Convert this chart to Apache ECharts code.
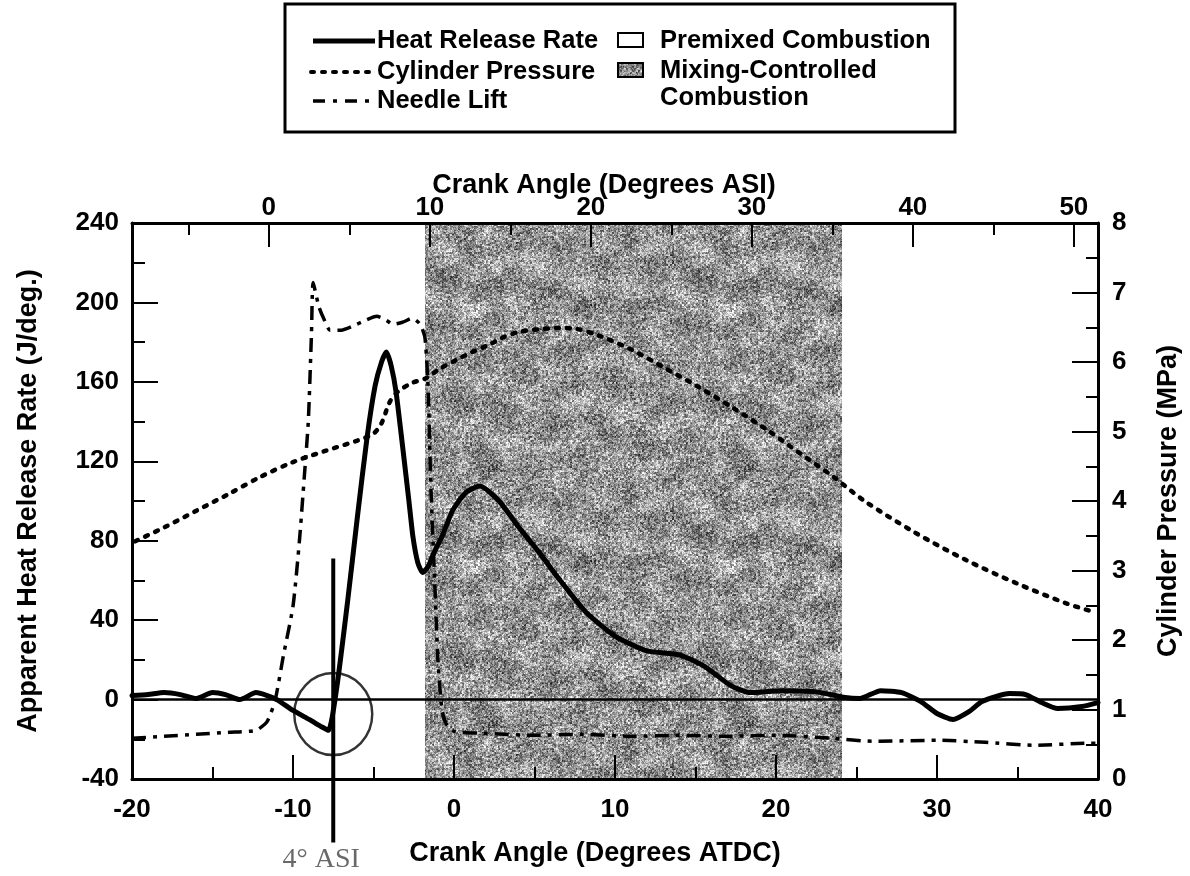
<!DOCTYPE html>
<html>
<head>
<meta charset="utf-8">
<title>Heat Release Rate, Cylinder Pressure and Needle Lift</title>
<script src="https://cdn.jsdelivr.net/npm/echarts@6/dist/echarts.min.js"></script>
<style>
  html, body { margin: 0; padding: 0; background: #fff; }
  #chart { width: 1190px; height: 876px; }
</style>
</head>
<body>
<div id="chart"></div>
<script>
// ---- data -------------------------------------------------------------
// Crank angle in degrees ATDC; ASI = ATDC + ASI_OFFSET
const ASI_OFFSET = 11.5;

// Apparent heat release rate (J/deg.)
const hrrAngle = [-20, -19, -18, -17, -16, -15, -14.2, -13.3, -12.3, -11.6,
  -11, -10, -9, -8.2, -7.8, -7.3, -6.6, -6, -5.4, -4.9,
  -4.5, -4.2, -3.9, -3.6, -3.2, -2.8, -2.55, -2.25, -1.95, -1.6,
  -1.3, -0.7, -0.1, 0.7, 1.6, 2.8, 4, 5.3, 6.5, 8.2,
  10, 12, 14, 15.6, 17.2, 18.4, 20.3, 22.4, 24.3, 25.2,
  26.5, 27.8, 29, 30, 31, 32, 32.8, 34.5, 35.5, 36.5,
  37.5, 39, 40];
const hrrValue = [2, 2.5, 3.5, 2.5, 0.5, 3.5, 2.5, 0, 3.5, 2,
  0, -5.5, -10, -13.8, -15.5, 5, 50, 92, 132, 158,
  170, 175, 168, 155, 128, 100, 82, 69, 64, 67,
  73, 83, 95, 104, 107.5, 100, 87, 74, 61, 44,
  32, 24.5, 22.5, 16.5, 7, 3.5, 4.5, 4, 1, 0.5,
  4.5, 3.5, -1, -7, -10, -6, -1, 3, 2.5, -1.5,
  -4.5, -3.5, -1.5];

// Cylinder pressure (MPa)
const pressureAngle = [-19.8, -18, -16, -14, -12, -10, -8, -6, -5, -4.5,
  -4, -3.5, -2.6, -1.8, -0.9, 0.15, 1.1, 2.2, 3, 4,
  5.3, 6.5, 7.5, 9, 11, 13.2, 15.2, 17.25, 19.4, 21.4,
  23.5, 25.5, 28.6, 31.8, 34.9, 38, 39.8];
const pressureValue = [3.42, 3.62, 3.86, 4.1, 4.35, 4.56, 4.72, 4.87, 4.97, 5.12,
  5.42, 5.57, 5.7, 5.76, 5.9, 6.03, 6.14, 6.25, 6.35, 6.43,
  6.47, 6.49, 6.48, 6.38, 6.18, 5.9, 5.64, 5.35, 5.03, 4.7,
  4.36, 4.0, 3.55, 3.15, 2.82, 2.53, 2.4];

// Needle lift, plotted against the left scale
const needleAngle = [-20, -18, -16, -14, -12.3, -11.6, -11.1, -10.6, -10, -9.6,
  -9.3, -9.05, -8.85, -8.75, -8.4, -8.1, -7.7, -7, -6.3, -5.5,
  -4.8, -4.2, -3.8, -3.2, -2.6, -2.1, -1.8, -1.6, -1.45, -1.2,
  -1, -0.75, -0.5, 0, 2, 5, 8, 11, 14, 17,
  20, 23.5, 26, 30, 33, 36, 39.5, 40];
const needleValue = [-19.5, -18.5, -17.5, -16.5, -15.5, -11, 0, 22, 47, 80,
  112, 140, 185, 210, 198, 192, 186, 186, 188, 191,
  193, 191, 189, 190, 192, 189, 182, 155, 110, 60,
  20, -5, -12, -16, -17, -18, -17.5, -18.5, -18, -18.5,
  -18, -19.5, -21, -20.5, -21.5, -23, -22, -22];

// Mixing-controlled combustion window (deg ATDC)
const mixingRange = [-1.8, 24.1];

// Start of injection marker (deg ASI) and its vertical extent (J/deg.)
const injectionASI = 4;
const injectionSpan = [71, -72];
// Circled ignition-delay point (deg ATDC, J/deg.)
const circleCenter = [-7.5, -7.3];

// Top-axis ticks, in deg ASI
const asiLabels = [0, 10, 20, 30, 40, 50];
const asiMinorTicks = [-5, 5, 15, 25, 35, 45];

// ---- helpers ---------------------------------------------------------
const zip = (xs, ys) => xs.map((x, i) => [x, ys[i]]);
const toATDC = (asi) => asi - ASI_OFFSET;

// Deterministic grain texture for the mixing-controlled shading
function hash(x, y) {
  let n = Math.imul(x, 374761393) + Math.imul(y, 668265263);
  n = Math.imul(n ^ (n >>> 13), 1274126177);
  n = n ^ (n >>> 16);
  return (n >>> 0) / 4294967295;
}
function makeGrain() {
  const W = 256, H = 256, TAU = 2 * Math.PI;
  const c = document.createElement('canvas');
  c.width = W; c.height = H;
  const ctx = c.getContext('2d');
  const img = ctx.createImageData(W, H);
  for (let y = 0; y < H; y++) {
    for (let x = 0; x < W; x++) {
      const u = x / W, v = y / H;
      const s1 = Math.sin(TAU * (-u + 6 * v) + 1.3 * Math.sin(TAU * (2 * u + v)));
      const s2 = Math.sin(TAU * (2 * u + 3 * v)) * Math.sin(TAU * (3 * u - v));
      const s3 = Math.sin(TAU * (5 * u + 2 * v)) * Math.sin(TAU * (u - 5 * v));
      const tone = 150 + 12 * s1 + 16 * s2 + 12 * s3;
      const n = 0.55 * hash(x >> 1, (y >> 1) + 977) + 0.45 * hash(x, y);
      let g = tone + (n - 0.5) * 200;
      g = Math.max(0, Math.min(255, g));
      const k = (y * W + x) * 4;
      img.data[k] = img.data[k + 1] = img.data[k + 2] = g;
      img.data[k + 3] = 255;
    }
  }
  ctx.putImageData(img, 0, 0);
  return c;
}
const grain = { image: makeGrain(), repeat: 'repeat' };

// ---- styling ---------------------------------------------------------
const FONT = '"Liberation Sans", Arial, Helvetica, sans-serif';
const tickLabel = { color: '#000', fontFamily: FONT, fontWeight: 'bold', fontSize: 26 };
const titleStyle = { color: '#000', fontFamily: FONT, fontWeight: 'bold', fontSize: 27 };
const frame = { show: true, onZero: false, lineStyle: { color: '#000', width: 3 } };
const tickLine = { color: '#000', width: 2 };

const markX = toATDC(injectionASI);

const chart = echarts.init(document.getElementById('chart'), null, { renderer: 'canvas' });

const legendFont = 'bold 25.5px ' + FONT;

chart.setOption({
  animation: false,
  backgroundColor: '#fff',
  grid: { left: 132, right: 90, top: 223, bottom: 97 },
  xAxis: [
    {
      type: 'value', position: 'bottom', min: -20, max: 40, interval: 10, z: 8,
      axisLine: frame,
      axisTick: { inside: true, length: 24, lineStyle: tickLine },
      minorTick: { show: true, splitNumber: 2, length: 12, lineStyle: tickLine },
      splitLine: { show: false },
      axisLabel: Object.assign({ margin: 18 }, tickLabel),
      name: 'Crank Angle (Degrees ATDC)', nameLocation: 'middle', nameGap: 61,
      nameMoveOverlap: false,
      nameTextStyle: Object.assign({ padding: [0, 40, 0, 0] }, titleStyle)
    },
    {
      type: 'value', position: 'top', min: -20, max: 40, z: 8,
      axisLine: frame,
      axisTick: { inside: true, length: 24, lineStyle: tickLine, customValues: asiLabels.map(toATDC) },
      splitLine: { show: false },
      axisLabel: Object.assign({
        margin: 2,
        customValues: asiLabels.map(toATDC),
        formatter: (v) => String(Math.round(v + ASI_OFFSET))
      }, tickLabel),
      name: 'Crank Angle (Degrees ASI)', nameLocation: 'middle', nameGap: 24,
      nameMoveOverlap: false,
      nameTextStyle: Object.assign({ padding: [0, 22, 0, 0] }, titleStyle)
    },
    {
      type: 'value', position: 'top', min: -20, max: 40, z: 8,
      axisLine: { show: false, onZero: false },
      axisTick: { inside: true, length: 12, lineStyle: tickLine, customValues: asiMinorTicks.map(toATDC) },
      axisLabel: { show: false },
      splitLine: { show: false }
    }
  ],
  yAxis: [
    {
      type: 'value', position: 'left', min: -40, max: 240, interval: 40, z: 8,
      axisLine: frame,
      axisTick: { show: true, inside: true, length: 26, lineStyle: tickLine },
      minorTick: { show: true, splitNumber: 2, length: 13, lineStyle: tickLine },
      splitLine: { show: false },
      axisLabel: Object.assign({ margin: 13 }, tickLabel),
      name: 'Apparent Heat Release Rate (J/deg.)', nameLocation: 'middle', nameGap: 90, nameRotate: 90,
      nameMoveOverlap: false,
      nameTextStyle: titleStyle
    },
    {
      type: 'value', position: 'right', min: 0, max: 8, interval: 1, z: 8,
      axisLine: frame,
      axisTick: { show: true, inside: true, length: 26, lineStyle: tickLine },
      minorTick: { show: true, splitNumber: 2, length: 12, lineStyle: tickLine },
      splitLine: { show: false },
      axisLabel: Object.assign({ margin: 14 }, tickLabel),
      name: 'Cylinder Pressure (MPa)', nameLocation: 'middle', nameGap: 57, nameRotate: 90,
      nameMoveOverlap: false,
      nameTextStyle: titleStyle
    }
  ],
  series: [
    {
      name: 'Mixing-Controlled Combustion', type: 'line', data: [], z: 1,
      markArea: {
        silent: true,
        itemStyle: { color: grain },
        data: [[{ xAxis: mixingRange[0] }, { xAxis: mixingRange[1] }]]
      }
    },
    {
      name: 'Needle Lift', type: 'line', xAxisIndex: 0, yAxisIndex: 0, z: 3,
      data: zip(needleAngle, needleValue), symbol: 'none', smooth: 0.2,
      lineStyle: { color: '#000', width: 3.5, type: [14, 7, 4, 7] }
    },
    {
      name: 'Cylinder Pressure', type: 'line', xAxisIndex: 0, yAxisIndex: 1, z: 3,
      data: zip(pressureAngle, pressureValue), symbol: 'none', smooth: 0.3,
      lineStyle: { color: '#000', width: 4.5, type: [3, 8], cap: 'round' }
    },
    {
      name: 'Heat Release Rate', type: 'line', xAxisIndex: 0, yAxisIndex: 0, z: 4,
      data: zip(hrrAngle, hrrValue), symbol: 'none', smooth: 0.2,
      lineStyle: { color: '#000', width: 5, cap: 'round', join: 'round' },
      markLine: {
        silent: true, symbol: 'none', label: { show: false },
        lineStyle: { color: '#000', width: 2.5, type: 'solid' },
        data: [{ yAxis: 0 }]
      }
    },
    {
      name: 'Injection', type: 'line', xAxisIndex: 0, yAxisIndex: 0, z: 5, clip: false,
      data: injectionSpan.map((v) => [markX, v]), symbol: 'none',
      lineStyle: { color: '#000', width: 4 }
    },
    {
      name: 'Injection label', type: 'scatter', xAxisIndex: 0, yAxisIndex: 0, z: 5, clip: false,
      data: [[markX, injectionSpan[1]]], symbolSize: 1, itemStyle: { color: 'rgba(0,0,0,0)' },
      label: {
        show: true, position: 'bottom', distance: 3, offset: [-12, 0],
        formatter: injectionASI + '° ASI',
        fontFamily: '"Liberation Serif", "Times New Roman", serif', fontSize: 28, color: '#444'
      }
    },
    {
      name: 'Circle', type: 'scatter', xAxisIndex: 0, yAxisIndex: 0, z: 5, clip: false,
      data: [circleCenter], symbol: 'circle', symbolSize: [78, 82],
      itemStyle: { color: 'rgba(0,0,0,0)', borderColor: '#000', borderWidth: 2.5 }
    }
  ],
  graphic: [
    { type: 'rect', z: 10, shape: { x: 285, y: 4, width: 670, height: 128 },
      style: { fill: '#fff', stroke: '#000', lineWidth: 3 } },
    { type: 'line', z: 11, shape: { x1: 313, y1: 41, x2: 375, y2: 41 },
      style: { stroke: '#000', lineWidth: 5 } },
    { type: 'line', z: 11, shape: { x1: 311, y1: 72, x2: 375, y2: 72 },
      style: { stroke: '#000', lineWidth: 4, lineDash: [3, 8], lineCap: 'round' } },
    { type: 'line', z: 11, shape: { x1: 313, y1: 101, x2: 375, y2: 101 },
      style: { stroke: '#000', lineWidth: 3.5, lineDash: [12, 8, 4, 8] } },
    { type: 'text', z: 11, style: { text: 'Heat Release Rate', x: 377, y: 41, font: legendFont, fill: '#000', verticalAlign: 'middle' } },
    { type: 'text', z: 11, style: { text: 'Cylinder Pressure', x: 377, y: 72, font: legendFont, fill: '#000', verticalAlign: 'middle' } },
    { type: 'text', z: 11, style: { text: 'Needle Lift', x: 377, y: 101, font: legendFont, fill: '#000', verticalAlign: 'middle' } },
    { type: 'rect', z: 11, shape: { x: 618, y: 33, width: 25, height: 14 },
      style: { fill: '#fff', stroke: '#000', lineWidth: 2 } },
    { type: 'rect', z: 11, shape: { x: 618, y: 63, width: 25, height: 14 },
      style: { fill: grain, stroke: '#000', lineWidth: 2 } },
    { type: 'text', z: 11, style: { text: 'Premixed Combustion', x: 660, y: 41, font: legendFont, fill: '#000', verticalAlign: 'middle' } },
    { type: 'text', z: 11, style: { text: 'Mixing-Controlled', x: 660, y: 71, font: legendFont, fill: '#000', verticalAlign: 'middle' } },
    { type: 'text', z: 11, style: { text: 'Combustion', x: 660, y: 98, font: legendFont, fill: '#000', verticalAlign: 'middle' } }
  ]
});
</script>
</body>
</html>
